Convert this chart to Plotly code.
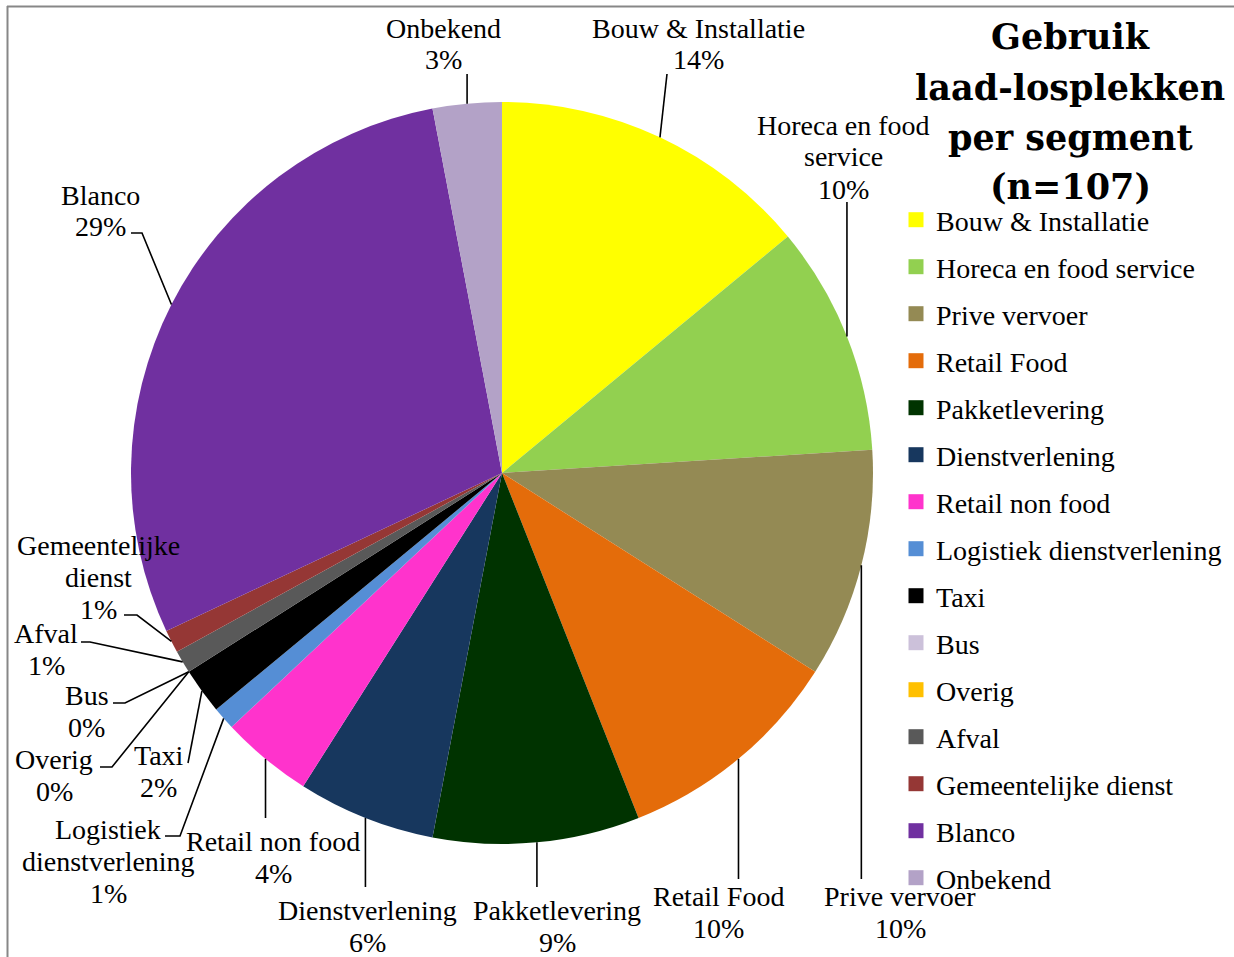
import math
import plotly.graph_objects as go

W, H = 1234, 957

# --- data -------------------------------------------------------------
categories = [
    "Bouw & Installatie", "Horeca en food service", "Prive vervoer", "Retail Food",
    "Pakketlevering", "Dienstverlening", "Retail non food", "Logistiek dienstverlening",
    "Taxi", "Bus", "Overig", "Afval", "Gemeentelijke dienst", "Blanco", "Onbekend",
]
shares = [14, 10, 10, 10, 9, 6, 4, 1, 2, 0, 0, 1, 1, 29, 3]
colors = [
    "#FFFF00", "#92D050", "#948A54", "#E46C0A", "#003300", "#17375E", "#FF33CC",
    "#558ED5", "#000000", "#CCC1DA", "#FFC000", "#595959", "#953735", "#7030A0", "#B3A2C7",
]
# names as wrapped inside the slice labels
label_names = [
    "Bouw & Installatie", "Horeca en food<br>service", "Prive vervoer", "Retail Food",
    "Pakketlevering", "Dienstverlening", "Retail non food", "Logistiek<br>dienstverlening",
    "Taxi", "Bus", "Overig", "Afval", "Gemeentelijke<br>dienst", "Blanco", "Onbekend",
]
title_lines = ["Gebruik", "laad-losplekken", "per segment", "(n=107)"]

# --- layout helpers (pixel -> paper) ----------------------------------
def px(x):
    return x / W

def py(y):
    return 1 - y / H

CX, CY, R = 502, 473, 371          # pie centre / radius in pixels
FONT = "Liberation Serif"
LABEL_SIZE = 28
LINE_STEP = 32

# label block placement: centre x, y of first text line
label_pos = {
    "Bouw & Installatie": (698, 28),
    "Horeca en food service": (843, 125),
    "Prive vervoer": (900, 896),
    "Retail Food": (718, 896),
    "Pakketlevering": (557, 910),
    "Dienstverlening": (367, 910),
    "Retail non food": (273, 841),
    "Logistiek dienstverlening": (108, 829),
    "Taxi": (159, 755),
    "Bus": (87, 695),
    "Overig": (54, 759),
    "Afval": (46, 633),
    "Gemeentelijke dienst": (98, 545),
    "Blanco": (100, 195),
    "Onbekend": (443, 28),
}
# leader line route from the slice edge to its label (None x = straight vertical)
leader_route = {
    "Bouw & Installatie": [(667, 74)],
    "Horeca en food service": [(None, 202)],
    "Prive vervoer": [(None, 879)],
    "Retail Food": [(None, 879)],
    "Pakketlevering": [(None, 887)],
    "Dienstverlening": [(None, 887)],
    "Retail non food": [(None, 818)],
    "Logistiek dienstverlening": [(180, 836), (165, 836)],
    "Taxi": [(188, 763)],
    "Bus": [(125, 703), (113, 703)],
    "Overig": [(112, 767), (100, 767)],
    "Afval": [(90, 642), (81, 642)],
    "Gemeentelijke dienst": [(137, 615), (124, 615)],
    "Blanco": [(142, 233), (131, 233)],
    "Onbekend": [(None, 74)],
}

fig = go.Figure()

fig.add_trace(go.Pie(
    labels=categories,
    values=shares,
    sort=False,
    direction="clockwise",
    rotation=0,
    marker=dict(colors=colors, line=dict(width=0)),
    textinfo="none",
    hoverinfo="label+percent",
    showlegend=False,
    domain=dict(x=[px(CX - R), px(CX + R)], y=[py(CY + R), py(CY - R)]),
))

# legend entries (one group each so the rows can be spaced)
for name, col in zip(categories, colors):
    fig.add_trace(go.Scatter(
        x=[None], y=[None], mode="markers", name=name, legendgroup=name,
        marker=dict(symbol="square", size=15, color=col),
        hoverinfo="skip",
    ))

annotations = []
shapes = []
total = sum(shares)
cum = 0.0
for name, lab, val in zip(categories, label_names, shares):
    frac = val / total
    mid = (cum + frac / 2) * 360.0          # clockwise from 12 o'clock
    cum += frac
    a = math.radians(90.0 - mid)
    sx, sy = CX + R * math.cos(a), CY - R * math.sin(a)

    pct = f"{round(frac * 100)}%"
    cx, y0 = label_pos[name]
    for k, line in enumerate((lab + "<br>" + pct).split("<br>")):
        annotations.append(dict(
            text=line, x=px(cx), y=py(y0 + k * LINE_STEP), xref="paper", yref="paper",
            xanchor="center", yanchor="middle", showarrow=False,
            font=dict(family=FONT, size=LABEL_SIZE, color="#000000"),
        ))

    path = f"M{px(sx)},{py(sy)}"
    for (lx, ly) in leader_route[name]:
        lx = sx if lx is None else lx
        path += f" L{px(lx)},{py(ly)}"
    shapes.append(dict(type="path", path=path, xref="paper", yref="paper",
                       line=dict(color="#000000", width=1.6)))

# chart title
for k, line in enumerate(title_lines):
    annotations.append(dict(
        text=f"<b>{line}</b>", x=px(1070), y=py(37 + k * 50), xref="paper", yref="paper",
        xanchor="center", yanchor="middle", showarrow=False,
        font=dict(family="DejaVu Serif", size=35, color="#000000"),
    ))

# chart frame (top and left edges)
shapes.append(dict(type="line", xref="paper", yref="paper",
                   x0=px(7), x1=px(W + 40), y0=py(6.5), y1=py(6.5),
                   line=dict(color="#878787", width=2)))
shapes.append(dict(type="line", xref="paper", yref="paper",
                   x0=px(7.5), x1=px(7.5), y0=py(6), y1=py(H + 40),
                   line=dict(color="#878787", width=2)))

fig.update_layout(
    width=W, height=H, autosize=False,
    margin=dict(l=0, r=0, t=0, b=0),
    paper_bgcolor="#FFFFFF", plot_bgcolor="#FFFFFF",
    xaxis=dict(visible=False), yaxis=dict(visible=False),
    annotations=annotations, shapes=shapes,
    legend=dict(
        x=px(896), y=py(195), xanchor="left", yanchor="top",
        font=dict(family=FONT, size=LABEL_SIZE, color="#000000"),
        tracegroupgap=7.6, itemwidth=30, bgcolor="rgba(0,0,0,0)",
        traceorder="grouped",
    ),
    showlegend=True,
)

fig.write_html("out.html")
